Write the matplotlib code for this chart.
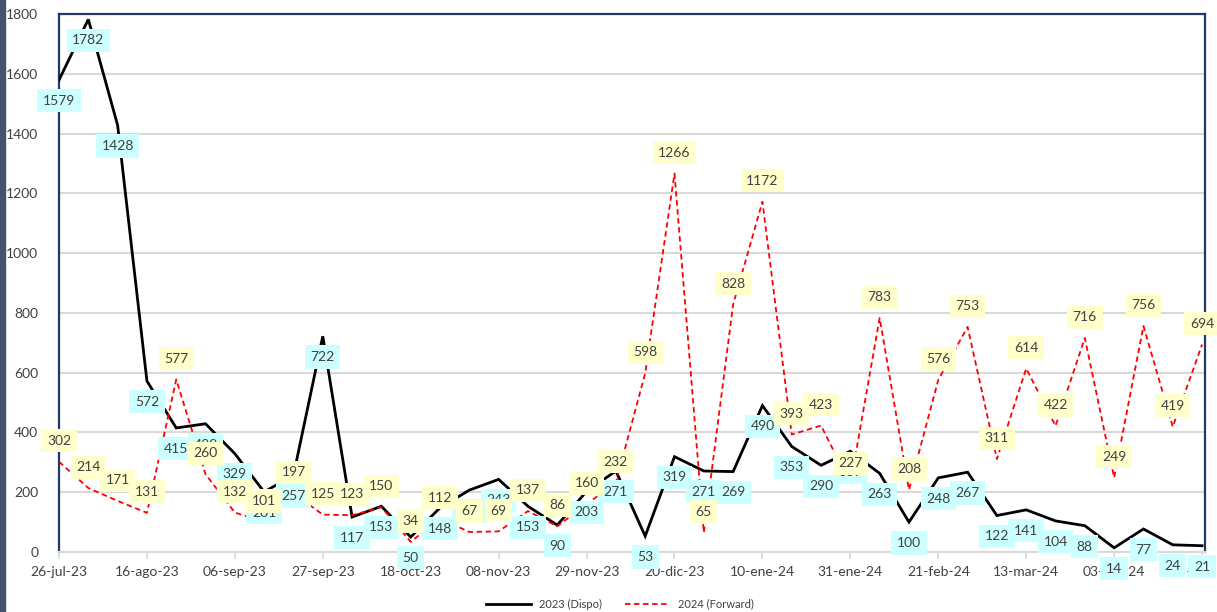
import matplotlib
matplotlib.use("Agg")
import matplotlib.pyplot as plt
from matplotlib.lines import Line2D
from matplotlib.patches import Rectangle

weeks = ["26-jul-23", "02-ago-23", "09-ago-23", "16-ago-23", "23-ago-23", "30-ago-23",
         "06-sep-23", "13-sep-23", "20-sep-23", "27-sep-23", "04-oct-23", "11-oct-23",
         "18-oct-23", "25-oct-23", "01-nov-23", "08-nov-23", "15-nov-23", "22-nov-23",
         "29-nov-23", "06-dic-23", "13-dic-23", "20-dic-23", "27-dic-23", "03-ene-24",
         "10-ene-24", "17-ene-24", "24-ene-24", "31-ene-24", "07-feb-24", "14-feb-24",
         "21-feb-24", "28-feb-24", "06-mar-24", "13-mar-24", "20-mar-24", "27-mar-24",
         "03-abr-24", "10-abr-24", "17-abr-24", "24-abr-24"]

dispo_2023 = [1579, 1782, 1428, 572, 415, 429, 329, 201, 257, 722, 117, 153,
              50, 148, 207, 243, 153, 90, 203, 271, 53, 319, 271, 269,
              490, 353, 290, 337, 263, 100, 248, 267, 122, 141, 104, 88,
              14, 77, 24, 21]

forward_2024 = [302, 214, 171, 131, 577, 260, 132, 101, 197, 125, 123, 150,
                34, 112, 67, 69, 137, 86, 160, 232, 598, 1266, 65, 828,
                1172, 393, 423, 227, 783, 208, 576, 753, 311, 614, 422, 716,
                249, 756, 419, 694]

series_names = ["2023 (Dispo)", "2024 (Forward)"]
y_ticks = list(range(0, 1801, 200))

plt.rcParams['font.family'] = ['Lato', 'DejaVu Sans']

fig = plt.figure(figsize=(12.17, 6.12), dpi=100)
ax = fig.add_axes([59 / 1217, 1 - 552 / 612, (1205 - 59) / 1217, (552 - 14) / 612])

x = list(range(len(weeks)))
ax.plot(x, dispo_2023, color="black", lw=2.0, zorder=3, solid_joinstyle="miter")
ax.plot(x, forward_2024, color="#FF0000", lw=1.3, ls=(0, (3, 2)), zorder=3)

ax.set_xlim(0, len(weeks) - 1 + 0.1)
ax.set_ylim(0, 1800)
ax.set_yticks(y_ticks)
ax.set_yticklabels([str(v) for v in y_ticks])
ax.set_xticks(x[::3])
ax.set_xticklabels(weeks[::3])

ax.grid(axis="y", color="#D9D9D9", lw=1.5, zorder=0)
ax.set_axisbelow(True)
for s in ["left", "top", "right"]:
    ax.spines[s].set_color("#1F3864")
    ax.spines[s].set_linewidth(1.6)
ax.spines["bottom"].set_color("#D9D9D9")
ax.spines["bottom"].set_linewidth(1.5)

ax.tick_params(axis="y", length=0, pad=15, labelsize=10, labelcolor="#404040")
ax.tick_params(axis="x", length=5, color="#D9D9D9", width=1.2, pad=5,
               labelsize=10, labelcolor="#404040")

for xi, v in zip(x, dispo_2023):
    ax.annotate(str(v), (xi, v), xytext=(0, -15), textcoords="offset points",
                ha="center", va="center", fontsize=10, color="#404040",
                bbox=dict(boxstyle="square,pad=0.4", fc="#CCFFFF", ec="none"),
                zorder=5, annotation_clip=False)
for xi, v in zip(x, forward_2024):
    ax.annotate(str(v), (xi, v), xytext=(0, 15), textcoords="offset points",
                ha="center", va="center", fontsize=10, color="#404040",
                bbox=dict(boxstyle="square,pad=0.4", fc="#FFFFCC", ec="none"),
                zorder=6, annotation_clip=False)

handles = [Line2D([], [], color="black", lw=2.0),
           Line2D([], [], color="#FF0000", lw=1.3, ls=(0, (3, 2)))]
fig.legend(handles, series_names, loc="center", bbox_to_anchor=(620 / 1217, 1 - 604 / 612),
           ncol=2, frameon=False, fontsize=8, handlelength=4.0, columnspacing=2.0,
           labelcolor="#404040")

fig.patches.append(Rectangle((0, 0), 5 / 1217, 1, transform=fig.transFigure,
                             color="#44546A", zorder=10))

fig.savefig("out.png", dpi=100)
